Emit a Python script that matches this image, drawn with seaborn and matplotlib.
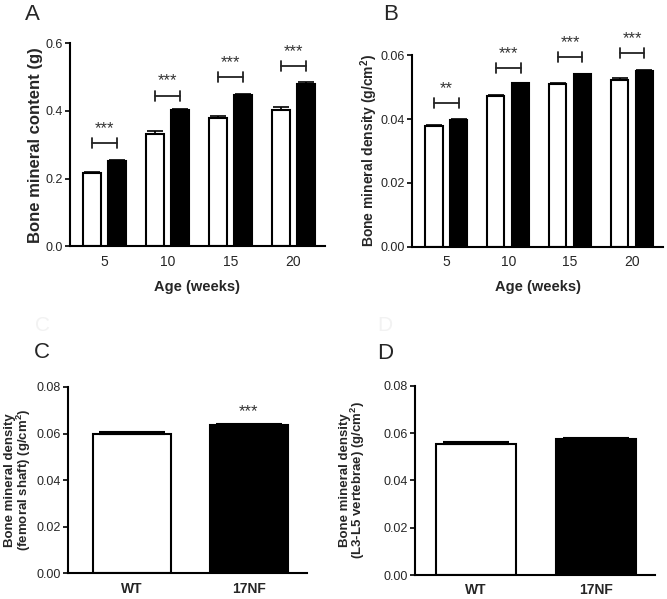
import pandas as pd
import seaborn as sns
import matplotlib.pyplot as plt

ages = ["5", "10", "15", "20"]
groups = ["WT", "17NF"]

# panel A - bone mineral content (g)
bmc_wt = [0.215, 0.332, 0.380, 0.401]
bmc_nf = [0.252, 0.401, 0.446, 0.480]
bmc_wt_err = [0.005, 0.007, 0.005, 0.009]
bmc_nf_err = [0.003, 0.003, 0.003, 0.006]
bmc_sig = ["***", "***", "***", "***"]
bmc_bracket = [0.305, 0.445, 0.500, 0.533]

# panel B - bone mineral density (g/cm2)
bmd_wt = [0.0378, 0.0473, 0.0509, 0.0522]
bmd_nf = [0.0397, 0.0512, 0.0540, 0.0550]
bmd_wt_err = [0.0003, 0.0003, 0.0005, 0.0007]
bmd_nf_err = [0.0002, 0.0002, 0.0002, 0.0003]
bmd_sig = ["**", "***", "***", "***"]
bmd_bracket = [0.0450, 0.0560, 0.0594, 0.0606]

# panel C / D
femur_bmd = [0.0598, 0.0635]
femur_err = [0.0007, 0.0004]
femur_sig = ["", "***"]
spine_bmd = [0.0555, 0.0577]
spine_err = [0.0008, 0.0004]

sns.set_style("ticks")
plt.rcParams["font.family"] = ["Liberation Sans", "DejaVu Sans"]
plt.rcParams["mathtext.default"] = "regular"

pal = {"WT": "white", "17NF": "black"}


def style_axis(ax):
    sns.despine(ax=ax)
    for s in ["left", "bottom"]:
        ax.spines[s].set_linewidth(1.5)
        ax.spines[s].set_color("black")
    ax.tick_params(axis="y", length=3.5, width=1.2, labelsize=9, color="black", pad=1.5)
    ax.tick_params(axis="x", length=0, labelsize=10, pad=6)


def grouped_panel(ax, wt, nf, wt_err, nf_err, sig, bracket, ylim, ticks, fmt, ylabel, labx, labsize):
    df = pd.DataFrame({"age": ages * 2,
                       "group": ["WT"] * 4 + ["17NF"] * 4,
                       "value": wt + nf})
    sns.barplot(data=df, x="age", y="value", hue="group", order=ages, hue_order=groups,
                palette=pal, edgecolor="black", linewidth=1.5, width=0.8, gap=0.3,
                errorbar=None, legend=False, ax=ax)
    bars = ax.patches
    errs = wt_err + nf_err
    for p, e in zip(bars, errs):
        xc = p.get_x() + p.get_width() / 2
        ax.errorbar(xc, p.get_height(), yerr=[[0], [e]], fmt="none", ecolor="black",
                    elinewidth=1.2, capsize=5.5, capthick=1.2)
    span = ylim[1] - ylim[0]
    for i in range(4):
        x0 = bars[i].get_x() + bars[i].get_width() / 2
        x1 = bars[i + 4].get_x() + bars[i + 4].get_width() / 2
        y = bracket[i]
        h = span * 0.025
        ax.plot([x0, x1], [y, y], color="#222222", lw=1.3, clip_on=False)
        ax.plot([x0, x0], [y - h, y + h], color="#222222", lw=1.3, clip_on=False)
        ax.plot([x1, x1], [y - h, y + h], color="#222222", lw=1.3, clip_on=False)
        ax.text((x0 + x1) / 2, y + span * 0.035, sig[i], ha="center", va="bottom",
                fontsize=12, color="#333333", clip_on=False)
    ax.set_xlim(-0.55, 3.5)
    ax.set_ylim(*ylim)
    ax.set_yticks(ticks)
    ax.set_yticklabels([fmt.format(t) for t in ticks])
    ax.set_xlabel("Age (weeks)", fontsize=10.5, fontweight="bold", labelpad=8)
    ax.set_ylabel(ylabel, fontsize=labsize, fontweight="bold")
    ax.yaxis.set_label_coords(labx, 0.5)
    style_axis(ax)


def pair_panel(ax, vals, errs, sig, ylabel, xlim, labx):
    df = pd.DataFrame({"group": groups, "value": vals})
    sns.barplot(data=df, x="group", y="value", hue="group", order=groups, hue_order=groups,
                palette=pal, edgecolor="black", linewidth=1.5, width=0.67,
                errorbar=None, legend=False, ax=ax)
    for p in ax.patches:
        xc = p.get_x() + p.get_width() / 2
        i = int(round(xc))
        ax.errorbar(xc, p.get_height(), yerr=[[0], [errs[i]]], fmt="none", ecolor="black",
                    elinewidth=1.2, capsize=24, capthick=1.5)
        if sig[i]:
            ax.text(xc, p.get_height() + 0.0025, sig[i], ha="center", va="bottom",
                    fontsize=12, color="#333333")
    ax.set_xlim(*xlim)
    ax.set_ylim(0, 0.08)
    ticks = [0, 0.02, 0.04, 0.06, 0.08]
    ax.set_yticks(ticks)
    ax.set_yticklabels(["{:.2f}".format(t) for t in ticks])
    ax.set_xlabel("")
    ax.set_ylabel(ylabel, fontsize=9.5, fontweight="bold", linespacing=0.85)
    ax.yaxis.set_label_coords(labx, 0.5)
    style_axis(ax)
    for lab in ax.get_xticklabels():
        lab.set_fontweight("bold")
        lab.set_fontsize(10)


fig = plt.figure(figsize=(6.67, 5.99), dpi=100)
axA = fig.add_axes([0.105, 0.589, 0.382, 0.339])
axB = fig.add_axes([0.618, 0.588, 0.376, 0.320])
axC = fig.add_axes([0.102, 0.043, 0.358, 0.311])
axD = fig.add_axes([0.622, 0.040, 0.360, 0.316])

grouped_panel(axA, bmc_wt, bmc_nf, bmc_wt_err, bmc_nf_err, bmc_sig, bmc_bracket,
              (0, 0.6), [0, 0.2, 0.4, 0.6], "{:.1f}", "Bone mineral content (g)", -0.108, 12)
grouped_panel(axB, bmd_wt, bmd_nf, bmd_wt_err, bmd_nf_err, bmd_sig, bmd_bracket,
              (0, 0.06), [0, 0.02, 0.04, 0.06], "{:.2f}", "Bone mineral density (g/cm$^2$)", -0.13, 10)
pair_panel(axC, femur_bmd, femur_err, femur_sig,
           "Bone mineral density\n(femoral shaft) (g/cm$^2$)", (-0.55, 1.5), -0.148)
pair_panel(axD, spine_bmd, spine_err, ["", ""],
           "Bone mineral density\n(L3-L5 vertebrae) (g/cm$^2$)", (-0.51, 1.49), -0.2)

# faint ghost letters left over in the original scan
fig.text(0.063, 0.457, "C", fontsize=15, ha="center", va="center", color="#f2f2f2")
fig.text(0.577, 0.457, "D", fontsize=15, ha="center", va="center", color="#f2f2f2")

for lab, x, y in [("A", 0.048, 0.975), ("B", 0.585, 0.975), ("C", 0.063, 0.412), ("D", 0.577, 0.41)]:
    fig.text(x, y, lab, fontsize=16, ha="center", va="center")

fig.savefig("out.png", dpi=100)
